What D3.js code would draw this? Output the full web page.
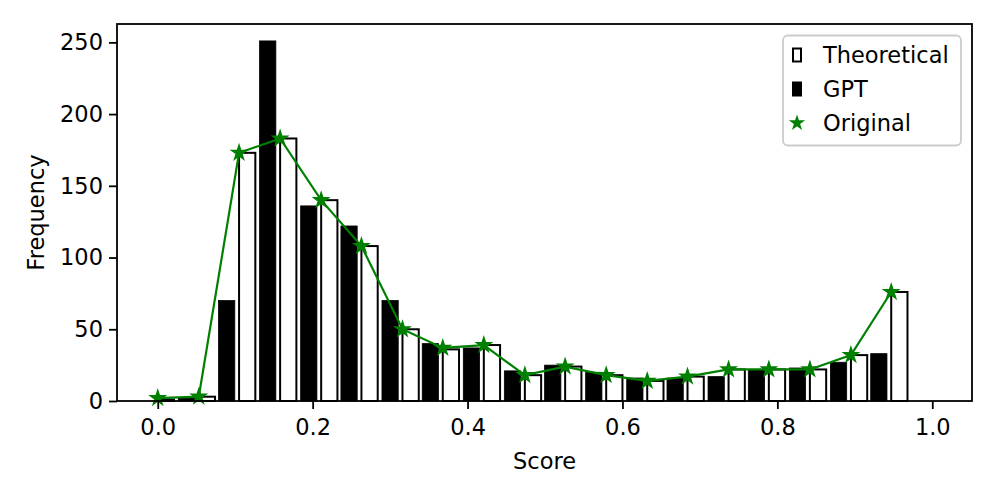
<!DOCTYPE html>
<html lang="en">
<head>
<meta charset="UTF-8">
<title>Score histogram</title>
<script src="https://cdn.jsdelivr.net/npm/d3@7"></script>
<style>
    body { margin: 0; background: white; }
    svg { display: block; font-family: "DejaVu Sans", sans-serif; }
</style>
</head>
<body>
<svg id="chart" width="997" height="498"></svg>
<script>
// bin positions (left of each bin) and counts
const scores = [0.000, 0.053, 0.105, 0.158, 0.211, 0.263, 0.316, 0.368, 0.421, 0.474,
                0.526, 0.579, 0.632, 0.684, 0.737, 0.789, 0.842, 0.895, 0.947];
const theoretical = [1, 3, 173, 183, 140, 108, 50, 36, 39, 18, 24, 18, 14, 17, 22, 22, 22, 32, 76];
const gpt = [0, 2, 70, 251, 136, 122, 70, 40, 37, 21, 25, 20, 16, 16, 17, 22, 23, 27, 33];
const original = [2, 3, 173, 183, 140, 108, 50, 37, 39, 18, 24, 18, 14, 17, 22, 22, 22, 32, 76];
const xTicks = [0, 0.2, 0.4, 0.6, 0.8, 1.0];
const yTicks = [0, 50, 100, 150, 200, 250];
const legendLabels = ["Theoretical", "GPT", "Original"];

const svg = d3.select("#chart");
const plotL = 117, plotR = 972, plotT = 24, plotB = 401;
const green = "#008000";

const x = d3.scaleLinear().domain([-0.0526, 1.0513]).range([plotL, plotR]);
const y = d3.scaleLinear().domain([0, 262.8]).range([plotB, plotT]);

// bars: GPT just left of the bin mark, theoretical just right of it
const gptOff = [-0.0265, -0.0055];
const theoW = 0.021;

svg.append("g").selectAll("rect")
    .data(gpt)
    .join("rect")
    .attr("x", (d, i) => x(scores[i] + gptOff[0]))
    .attr("width", x(gptOff[1]) - x(gptOff[0]))
    .attr("y", d => y(d))
    .attr("height", d => y(0) - y(d))
    .attr("fill", "black")
    .attr("stroke", "black")
    .attr("stroke-width", 0.8);

svg.append("g").selectAll("rect")
    .data(theoretical)
    .join("rect")
    .attr("x", (d, i) => x(scores[i]))
    .attr("width", x(theoW) - x(0))
    .attr("y", d => y(d))
    .attr("height", d => y(0) - y(d))
    .attr("fill", "white")
    .attr("stroke", "black")
    .attr("stroke-width", 2);

// original line with star markers
const line = d3.line()
    .x((d, i) => x(scores[i]))
    .y(d => y(d));

svg.append("path")
    .datum(original)
    .attr("d", line)
    .attr("fill", "none")
    .attr("stroke", green)
    .attr("stroke-width", 2.2);

const star = d3.symbol().type(d3.symbolStar).size(62);
svg.append("g").selectAll("path")
    .data(original)
    .join("path")
    .attr("transform", (d, i) => `translate(${x(scores[i])},${y(d)})`)
    .attr("d", star)
    .attr("fill", green)
    .attr("stroke", green)
    .attr("stroke-width", 1.6)
    .attr("stroke-linejoin", "miter");

// axes
const xAxis = svg.append("g")
    .attr("transform", `translate(0,${plotB})`)
    .call(d3.axisBottom(x).tickValues(xTicks).tickFormat(d3.format(".1f")).tickSize(8).tickPadding(10));
const yAxis = svg.append("g")
    .attr("transform", `translate(${plotL},0)`)
    .call(d3.axisLeft(y).tickValues(yTicks).tickSize(8).tickPadding(6));

[xAxis, yAxis].forEach(g => {
    g.select(".domain").remove();
    g.selectAll(".tick line").attr("stroke", "black").attr("stroke-width", 1.8);
    g.selectAll(".tick text")
        .attr("fill", "black")
        .style("font-family", "DejaVu Sans")
        .style("font-size", "22.5px");
});

// frame
svg.append("rect")
    .attr("x", plotL).attr("y", plotT)
    .attr("width", plotR - plotL).attr("height", plotB - plotT)
    .attr("fill", "none")
    .attr("stroke", "black")
    .attr("stroke-width", 1.8);

// axis titles
svg.append("text")
    .attr("x", (plotL + plotR) / 2)
    .attr("y", 469)
    .attr("text-anchor", "middle")
    .style("font-size", "22.5px")
    .text("Score");

svg.append("text")
    .attr("transform", `translate(44,${(plotT + plotB) / 2}) rotate(-90)`)
    .attr("text-anchor", "middle")
    .style("font-size", "22.5px")
    .text("Frequency");

// legend
const leg = svg.append("g");
leg.append("rect")
    .attr("x", 783).attr("y", 35.5)
    .attr("width", 178).attr("height", 110)
    .attr("rx", 5)
    .attr("fill", "white")
    .attr("fill-opacity", 0.8)
    .attr("stroke", "#cccccc")
    .attr("stroke-width", 1.8);

const rowY = [55, 89, 123];
legendLabels.forEach((label, i) => {
    const cy = rowY[i];
    if (i === 0) {
        leg.append("rect").attr("x", 793).attr("y", cy - 6.5).attr("width", 8).attr("height", 13)
            .attr("fill", "white").attr("stroke", "black").attr("stroke-width", 2);
    } else if (i === 1) {
        leg.append("rect").attr("x", 792).attr("y", cy - 7.5).attr("width", 10).attr("height", 15)
            .attr("fill", "black");
    } else {
        leg.append("path")
            .attr("transform", `translate(797,${cy})`)
            .attr("d", d3.symbol().type(d3.symbolStar).size(45))
            .attr("fill", green).attr("stroke", green).attr("stroke-width", 1.4);
    }
    leg.append("text")
        .attr("x", 823)
        .attr("y", cy)
        .attr("dy", "0.36em")
        .style("font-size", "22.5px")
        .text(label);
});
</script>
</body>
</html>
